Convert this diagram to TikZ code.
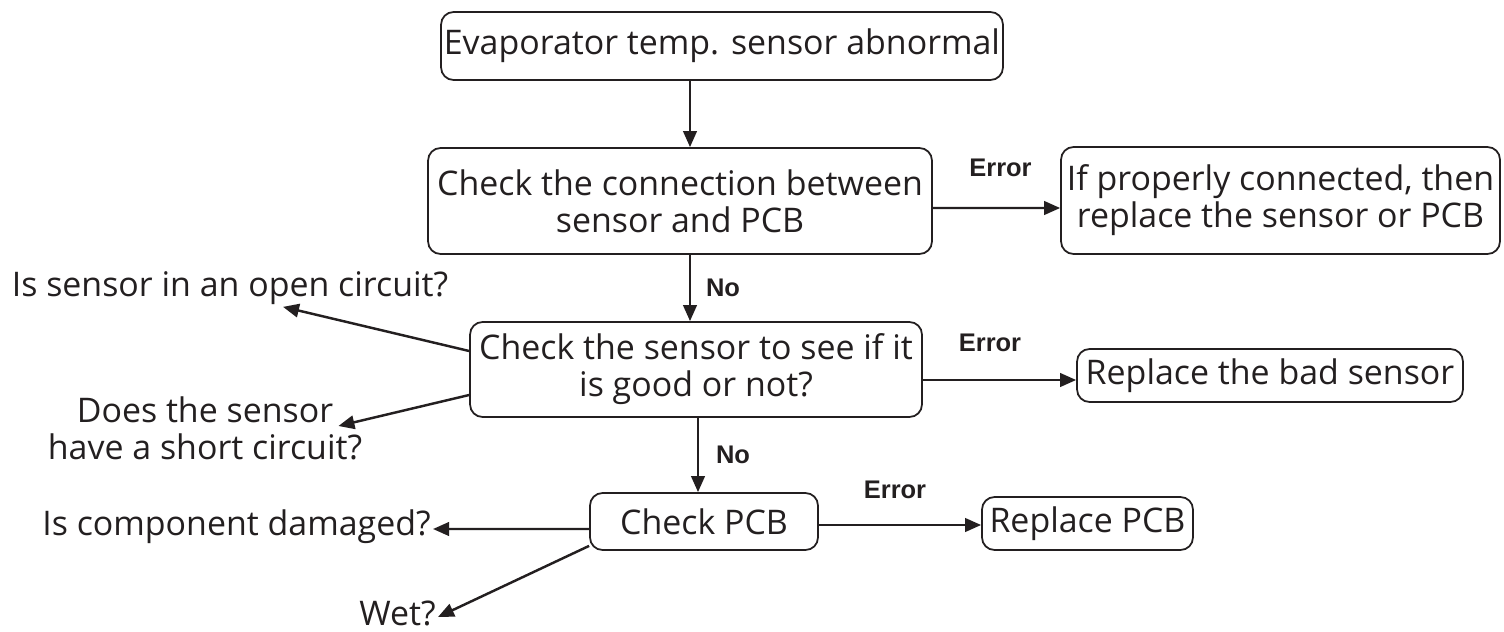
\documentclass[tikz,border=0pt]{standalone}
\usepackage{fontspec}
\setmainfont{Open Sans}
\newfontfamily\lblfont{Liberation Sans}
\usetikzlibrary{calc,arrows.meta}

\definecolor{ink}{HTML}{231F20}
\tikzset{
  box/.style={draw=ink, line width=1pt, rounded corners=0.25cm, inner sep=1pt, align=center, text=ink, font=\fontsize{19.3}{21}\selectfont},
  txt/.style={inner sep=0pt, align=center, text=ink, font=\fontsize{19.3}{21}\selectfont},
  lbl/.style={text=ink, font=\lblfont\bfseries\fontsize{14.5}{16}\selectfont},
  arr/.style={draw=ink, line width=1.4pt, -{Triangle[length=0.32cm,width=0.27cm]}},
}

\begin{document}
\begin{tikzpicture}[x=0.02cm, y=-0.02cm]
		\useasboundingbox (0,0) rectangle (1504,632);

		\node[box, minimum width=11.24cm, minimum height=1.36cm] (start) at (722,46) {Evaporator temp. sensor abnormal};
		\node[box, minimum width=10.08cm, minimum height=2.12cm] (conn) at (680,201) {Check the connection between\\sensor and PCB};
		\node[box, minimum width=8.78cm, minimum height=2.14cm] (ifprop) at (1280.5,200.5) {If properly connected, then\\replace the sensor or PCB};
		\node[box, minimum width=9.04cm, minimum height=1.9cm] (sensor) at (696,369.5) {Check the sensor to see if it\\is good or not?};
		\node[box, minimum width=7.72cm, minimum height=1.06cm] (badsensor) at (1270,375.5) {Replace the bad sensor};
		\node[box, minimum width=4.56cm, minimum height=1.14cm] (pcb) at (704,521.5) {Check PCB};
		\node[box, minimum width=4.22cm, minimum height=1.06cm] (replpcb) at (1087.5,523.5) {Replace PCB};

		\node[txt] (open) at (230,288) {Is sensor in an open circuit?};
		\node[txt] (short) at (205,428) {Does the sensor\\have a short circuit?};
		\node[txt, anchor=east] (damaged) at (431,527) {Is component damaged?};
		\node[txt, anchor=east] (wet) at (436,613) {Wet?};

		\draw[arr] ($(start.south)+(-32,0)$) -- ($(conn.north)+(10,0)$);
		\draw[arr] ($(conn.south)+(10,0)$) -- ($(sensor.north)+(-6,0)$) node[lbl, midway, xshift=0.66cm] {No};
		\draw[arr] ($(sensor.south)+(2,0)$) -- ($(pcb.north)+(-6,0)$) node[lbl, midway, xshift=0.7cm] {No};

		\draw[arr] ($(conn.east)+(0,7)$) -- ($(ifprop.west)+(0,7.5)$) node[lbl, midway, yshift=0.8cm, xshift=0.08cm] {Error};
		\draw[arr] ($(sensor.east)+(0,10.5)$) -- ($(badsensor.west)+(0,4.5)$) node[lbl, midway, yshift=0.74cm, xshift=-0.19cm] {Error};
		\draw[arr] ($(pcb.east)+(0,3.5)$) -- ($(replpcb.west)+(0,1.5)$) node[lbl, midway, yshift=0.7cm, xshift=-0.1cm] {Error};

		\draw[arr] ($(sensor.west)+(0,-18.5)$) -- ($(open.south)+(53,2)$);
		\draw[arr] ($(sensor.west)+(0,25.5)$) -- ($(short.east)+(-24,-2)$);
		\draw[arr] ($(pcb.west)+(0,7.5)$) -- ($(damaged.east)+(2,2)$);
		\draw[arr] ($(pcb.south west)+(0,-5)$) -- ($(wet.east)+(2,4)$);
	\end{tikzpicture}
\end{document}
